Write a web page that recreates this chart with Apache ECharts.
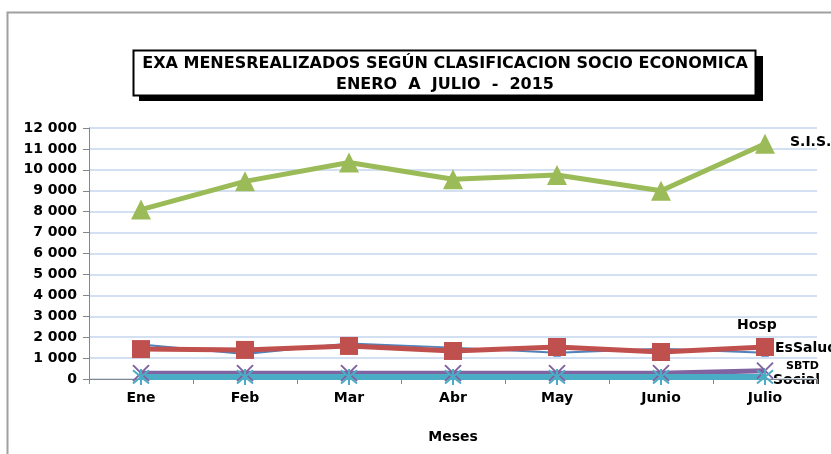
<!DOCTYPE html>
<html>
<head>
<meta charset="utf-8">
<script src="https://cdn.jsdelivr.net/npm/echarts@6/dist/echarts.min.js"></script>
<style>
    html, body { margin: 0; padding: 0; background: #fff; }
    #chart { width: 831px; height: 454px; }
</style>
</head>
<body>
<div id="chart"></div>
<script>
// datos del grafico
var meses = ['Ene', 'Feb', 'Mar', 'Abr', 'May', 'Junio', 'Julio'];
var sis = [8100, 9450, 10350, 9550, 9750, 9000, 11250];
var hosp = [1430, 1390, 1580, 1340, 1530, 1290, 1530];
var essalud = [1650, 1200, 1700, 1500, 1250, 1450, 1250];
var sbtd = [280, 280, 280, 280, 280, 280, 400];
var social = [100, 100, 100, 100, 100, 100, 100];

(function () {
    var myChart = echarts.init(document.getElementById('chart'));
    var fuente = 'DejaVu Sans';
    // X y asterisco como en excel
    var cruz = 'path://M0,0L10,10M10,0L0,10';
    var asterisco = 'path://M0,0L10,10M10,0L0,10M5,-1L5,11';

    var option = {
        animation: false,
        textStyle: { fontFamily: fuente },
        grid: {
            left: 89,
            right: 14,
            top: 128,
            bottom: 75
        },
        xAxis: {
            type: 'category',
            data: meses,
            boundaryGap: true,
            name: 'Meses',
            nameLocation: 'middle',
            nameGap: 51,
            nameTextStyle: { color: '#000', fontWeight: 'bold', fontSize: 14 },
            axisLine: { lineStyle: { color: '#868686', width: 1 } },
            axisTick: { show: true, length: 5, lineStyle: { color: '#868686' } },
            axisLabel: { color: '#000', fontWeight: 'bold', fontSize: 14, margin: 12 }
        },
        yAxis: {
            type: 'value',
            min: 0,
            max: 12000,
            interval: 1000,
            axisLine: { show: true, lineStyle: { color: '#868686', width: 1 } },
            axisTick: { show: true, length: 6, lineStyle: { color: '#868686' } },
            axisLabel: {
                color: '#000',
                fontWeight: 'bold',
                fontSize: 14,
                margin: 12,
                formatter: function (v) {
                    return String(v).replace(/\B(?=(\d{3})+(?!\d))/g, ' ');
                }
            },
            splitLine: { lineStyle: { color: '#d3e0f2', width: 2 } }
        },
        series: [
            {
                name: 'EsSalud',
                type: 'line',
                data: essalud,
                symbol: 'triangle',
                symbolSize: 8,
                lineStyle: { color: '#4f81bd', width: 2 },
                itemStyle: { color: '#4f81bd' }
            },
            {
                name: 'Hosp',
                type: 'line',
                data: hosp,
                symbol: 'rect',
                symbolSize: 18,
                lineStyle: { color: '#c0504d', width: 5 },
                itemStyle: { color: '#c0504d' }
            },
            {
                name: 'S.I.S.',
                type: 'line',
                data: sis,
                symbol: 'triangle',
                symbolSize: 20,
                lineStyle: { color: '#9bbb59', width: 5 },
                itemStyle: { color: '#9bbb59' }
            },
            {
                name: 'SBTD',
                type: 'line',
                data: sbtd,
                symbol: cruz,
                symbolSize: 16,
                lineStyle: { color: '#8064a2', width: 5 },
                itemStyle: { color: '#8064a2', borderColor: '#8064a2', borderWidth: 2 }
            },
            {
                name: 'Social',
                type: 'line',
                data: social,
                symbol: asterisco,
                symbolSize: 16,
                lineStyle: { color: '#4bacc6', width: 6 },
                itemStyle: { color: '#4bacc6', borderColor: '#4bacc6', borderWidth: 2 }
            }
        ],
        graphic: [
            // marco exterior
            {
                type: 'rect',
                silent: true,
                z: -10,
                shape: { x: 7.5, y: 12.5, width: 900, height: 600 },
                style: { fill: 'none', stroke: '#a0a0a0', lineWidth: 2 }
            },
            // sombra del titulo
            {
                type: 'rect',
                silent: true,
                shape: { x: 139, y: 56, width: 624, height: 45 },
                style: { fill: '#000' }
            },
            {
                type: 'rect',
                silent: true,
                shape: { x: 133.5, y: 50.5, width: 622, height: 45 },
                style: { fill: '#fff', stroke: '#000', lineWidth: 2 }
            },
            {
                type: 'text',
                silent: true,
                x: 445,
                y: 53,
                style: {
                    text: 'EXA MENESREALIZADOS SEGÚN CLASIFICACION SOCIO ECONOMICA\nENERO  A  JULIO  -  2015',
                    fill: '#000',
                    font: 'bold 16px "DejaVu Sans"',
                    align: 'center',
                    verticalAlign: 'top',
                    lineHeight: 21
                }
            },
            // etiquetas de las series
            { type: 'text', silent: true, x: 790, y: 135, style: { text: 'S.I.S.', fill: '#000', font: 'bold 14px "DejaVu Sans"' } },
            { type: 'text', silent: true, x: 737, y: 318, style: { text: 'Hosp', fill: '#000', font: 'bold 14px "DejaVu Sans"' } },
            { type: 'text', silent: true, x: 775, y: 341, style: { text: 'EsSalud', fill: '#000', font: 'bold 14px "DejaVu Sans"' } },
            { type: 'text', silent: true, x: 786, y: 361, style: { text: 'SBTD', fill: '#000', font: 'bold 11px "DejaVu Sans"' } },
            { type: 'text', silent: true, x: 773, y: 373, style: { text: 'Social', fill: '#000', font: 'bold 14px "DejaVu Sans"' } }
        ]
    };
    myChart.setOption(option);
    window.addEventListener('resize', function () {
        myChart.resize();
    });
})();
</script>
</body>
</html>
